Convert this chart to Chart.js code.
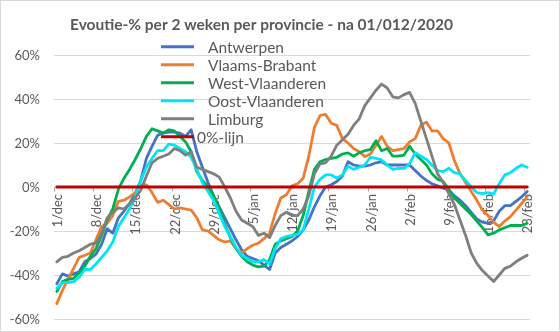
<!DOCTYPE html>
<html><head><meta charset="utf-8">
<script src="https://cdn.jsdelivr.net/npm/chart.js@4"></script>
<style>html,body{margin:0;padding:0;background:#fff;} canvas{display:block;}</style>
</head><body>
<canvas id="c" width="560" height="332"></canvas>
<script>
const monthSpans = [['dec', 31], ['jan', 31], ['feb', 23]];
const categories = [];
monthSpans.forEach(([m, n]) => { for (let d = 1; d <= n; d++) categories.push(d + '/' + m); });
const tickLabels = ['1/dec','8/dec','15/dec','22/dec','29/dec','5/jan','12/jan','19/jan','26/jan','2/feb','9/feb','16/feb','23/feb'];
const yTicks = [-60, -40, -20, 0, 20, 40, 60];
const titleText = 'Evoutie-% per 2 weken per provincie - na 01/012/2020';

const antwerpen = [
 -44,-39.5,-40.5,-39.5,-38.5,-34,-32.5,-30.5,-26,-19,
 -21,-14,-11,-7.5,-3,3,13,18.5,23.5,24.5,
 25,25,24.5,23,26,16,9,2,-4,-9,
 -14,-19,-24,-28.5,-31.5,-32.5,-33.5,-35.5,-37.5,-30,
 -27.5,-26,-24.5,-22.5,-19.5,-15,-9,-4,0,1,
 2.5,5,11.5,10,9.5,9.5,10,11,11.5,10,
 10,10,10,10,7.5,5,3,1.5,0.5,-0.5,
 -1.5,-4,-6,-8.5,-11.5,-14.5,-16,-16.5,-15.5,-11,
 -8.5,-8.5,-6.5,-4.5,-2];
const vlaamsBrabant = [
 -53,-47,-42,-37,-32,-31,-30,-24,-18,-16.5,
 -13,-6.5,-6,-4.5,-2.5,1,1,-2.5,-7,-6,
 -8,-10,-9.5,-10,-10.5,-14,-19.5,-20,-22,-24,
 -25,-24.5,-28,-30,-28,-26.5,-25.5,-23.5,-21,-12,
 -5,-3.5,0.5,1.5,4,14,27,32.5,33,29,
 28,22,20,17.5,16,13.8,15,19,23,18.5,
 16.5,17,17.5,20.5,22,28,29.5,25.5,25.5,22,
 20,12,6,2,-2,-6,-10.5,-13,-16,-18,
 -15.5,-13.5,-10.5,-7.5,-4.4];
const westVlaanderen = [
 -47.5,-43,-42,-41.5,-39,-36,-31.5,-28,-22,-15,
 -10,-1,4,8,12.5,17.5,23,26.5,25.5,24.5,
 26,25.5,23,20.5,16,7,3,0,-4,-10,
 -17,-23,-28,-31.5,-34,-35.5,-36.3,-36,-33,-26,
 -24.5,-23.5,-22.5,-20,-13,-2,8,11.5,12.5,13,
 13.5,15,15.5,14,15.5,16.5,17,21,16.5,17.5,
 14,14,14.5,18.5,15,12.5,10,6,3.5,2.5,
 -1,-5,-7.5,-10,-12.5,-15.5,-18.5,-21.8,-21,-19.5,
 -18.5,-17.5,-17.5,-17.5,-16.5];
const oostVlaanderen = [
 -46,-43.5,-43.5,-43,-41,-37.5,-37.5,-35,-32,-29,
 -25,-18,-14,-10,-4.5,3,9,13,16.5,16.5,
 19.5,19,17.5,16,13.5,8,2,-2,-6,-12,
 -18,-22.5,-27.5,-31,-32.5,-34,-34,-33,-35,-28,
 -23.5,-22.5,-22,-21.5,-19.5,-10,0,3.5,5.5,5.5,
 4,5.5,9.5,8,9,10,13.5,13,12.3,10,
 8,8.5,8.5,10.5,15.6,14,12.5,10,7.5,7,
 8.5,6.5,6,3,0,-2.5,-3,-2.6,-3.2,1.5,
 5.5,6.5,8.5,10,9];
const limburg = [
 -34,-32,-31.5,-30,-29,-27.5,-26,-25.5,-21,-14,
 -11.5,-9.5,-10,-7.5,-5,-1.5,5,11,13,14,
 15,17.5,16.5,14.5,16,9,8,7,6,4.5,
 0,-5,-11,-15,-16.5,-18,-22,-21,-23,-17.5,
 -13,-11.5,-13,-13,-10,-4,6,10.5,11,14,
 19,21.5,24,28,31,37,40.5,44,46.8,45,
 41,40.5,42,43,38,30,22,14,6,2,
 -3,-8,-15,-22,-30,-34.7,-38,-40.5,-43,-40,
 -37,-36,-34,-32.4,-31];
const zeroLine = categories.map(() => 0);

const seriesNames = ['Antwerpen','Vlaams-Brabant','West-Vlaanderen','Oost-Vlaanderen','Limburg','0%-lijn'];
const seriesColors = ['#4472C4','#ED7D31','#00B050','#00E5F5','#7F7F7F','#C00000'];
const seriesData = [antwerpen, vlaamsBrabant, westVlaanderen, oostVlaanderen, limburg, zeroLine];

const FONT = 'Lato, "Liberation Sans", sans-serif';
const TXT = '#595959';

const decor = {
  id: 'decor',
  beforeDraw(chart) {
    const ctx = chart.ctx;
    ctx.save();
    ctx.fillStyle = '#fff';
    ctx.fillRect(0, 0, chart.width, chart.height);
    ctx.strokeStyle = '#D9D9D9';
    ctx.lineWidth = 1;
    ctx.strokeRect(0.5, 0.5, chart.width - 1, chart.height - 1);
    let size = 16;
    ctx.font = 'bold ' + size + 'px ' + FONT;
    const w = ctx.measureText(titleText).width;
    size = Math.min(18, size * 383 / w);
    ctx.font = 'bold ' + size.toFixed(2) + 'px ' + FONT;
    ctx.fillStyle = TXT;
    ctx.textAlign = 'center';
    ctx.textBaseline = 'alphabetic';
    ctx.fillText(titleText, 261.5, 30);
    ctx.restore();
  },
  beforeDatasetsDraw(chart) {
    const ctx = chart.ctx;
    const xs = chart.scales.x, ys = chart.scales.y;
    const y0 = ys.getPixelForValue(0);
    const half = (xs.getPixelForValue(1) - xs.getPixelForValue(0)) / 2;
    ctx.save();
    ctx.fillStyle = TXT;
    ctx.font = '13px ' + FONT;
    // y-axis value labels
    ctx.textAlign = 'right';
    ctx.textBaseline = 'middle';
    yTicks.forEach(v => ctx.fillText(v + '%', 40, ys.getPixelForValue(v) + 1));
    // x-axis tick marks and rotated date labels along the 0 line
    ctx.strokeStyle = '#A6A6A6';
    ctx.lineWidth = 1;
    tickLabels.forEach(lbl => {
      const i = categories.indexOf(lbl);
      const x = xs.getPixelForValue(i);
      const tx = Math.round(x - half) + 0.5;
      ctx.beginPath(); ctx.moveTo(tx, y0); ctx.lineTo(tx, y0 + 4.5); ctx.stroke();
      ctx.save();
      ctx.translate(x + 1, y0 + 7);
      ctx.rotate(-Math.PI / 2);
      ctx.textAlign = 'right';
      ctx.textBaseline = 'middle';
      ctx.fillText(lbl, 0, 0);
      ctx.restore();
    });
    ctx.restore();
  },
  afterDatasetsDraw(chart) {
    const ctx = chart.ctx;
    ctx.save();
    ctx.font = '15.5px ' + FONT;
    ctx.fillStyle = TXT;
    ctx.textAlign = 'left';
    ctx.textBaseline = 'middle';
    chart.data.datasets.forEach((ds, i) => {
      const y = 46.7 + 18 * i;
      ctx.strokeStyle = ds.borderColor;
      ctx.lineWidth = 3;
      ctx.beginPath(); ctx.moveTo(161, y); ctx.lineTo(194, y); ctx.stroke();
      const tx = i === 5 ? 197 : 208;
      ctx.fillText(ds.label, tx, y + 1);
    });
    ctx.restore();
  }
};

const chart = new Chart(document.getElementById('c').getContext('2d'), {
  type: 'line',
  data: {
    labels: categories,
    datasets: seriesData.map((d, i) => ({
      label: seriesNames[i],
      data: d,
      borderColor: seriesColors[i],
      backgroundColor: seriesColors[i],
      order: seriesData.length - i,
      fill: false
    }))
  },
  options: {
    responsive: false,
    animation: false,
    devicePixelRatio: 1,
    layout: { padding: { left: 0, right: 30, top: 55, bottom: 13 } },
    plugins: { legend: { display: false }, title: { display: false }, tooltip: { enabled: false } },
    elements: {
      point: { radius: 0 },
      line: { tension: 0, borderWidth: 2.8, borderCapStyle: 'round', borderJoinStyle: 'round' }
    },
    scales: {
      x: {
        type: 'category', offset: true, display: false
      },
      y: {
        min: -60, max: 60,
        afterBuildTicks(s) { s.ticks = yTicks.map(v => ({ value: v })); },
        grid: { color: '#D9D9D9', drawTicks: false, lineWidth: 1 },
        border: { display: false },
        ticks: { display: false, padding: 0 },
        afterFit(s) { s.width = 54; }
      }
    }
  },
  plugins: [decor]
});
</script>
</body></html>
